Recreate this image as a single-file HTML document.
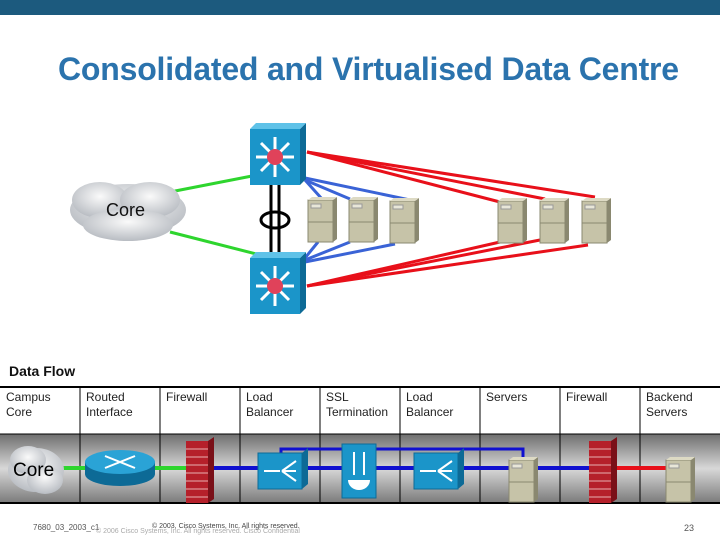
<!DOCTYPE html>
<html><head><meta charset="utf-8"><style>
body{margin:0;width:720px;height:540px;background:#fff;overflow:hidden;font-family:"Liberation Sans",sans-serif;position:relative}
.t{position:absolute;font-size:12px;color:#222;line-height:15px}
</style></head><body>
<div style="position:absolute;left:0;top:0;width:720px;height:15px;background:#1c5a7e"></div>
<div style="position:absolute;left:58px;top:51px;font-size:32px;font-weight:bold;color:#2b73ad;white-space:nowrap;letter-spacing:-0.2px">Consolidated and Virtualised Data Centre</div>
<svg width="720" height="540" style="position:absolute;left:0;top:0">
<defs>
<radialGradient id="cl" cx="50%" cy="40%" r="60%"><stop offset="0" stop-color="#fafafa"/><stop offset="1" stop-color="#b8bcc2"/></radialGradient>
<linearGradient id="bg" x1="0" y1="0" x2="0" y2="1"><stop offset="0" stop-color="#6e6e6e"/><stop offset="0.5" stop-color="#d8d8d8"/><stop offset="1" stop-color="#7a7a7a"/></linearGradient>
<g id="sw"><rect x="0" y="0" width="50" height="56" fill="#1b95c9"/><polygon points="50,0 56,-6 56,50 50,56" fill="#0d6a96"/><polygon points="0,0 6,-6 56,-6 50,0" fill="#5fc2e8"/>
<g stroke="#fff" stroke-width="3"><line x1="6" y1="28" x2="44" y2="28"/><line x1="25" y1="8" x2="25" y2="48"/><line x1="11" y1="14" x2="39" y2="42"/><line x1="39" y1="14" x2="11" y2="42"/></g><circle cx="25" cy="28" r="8" fill="#e0425a"/></g>
<g id="sv"><rect x="0" y="0" width="25" height="42" fill="#c6c3a8" stroke="#8a8870"/><polygon points="25,0 29,-3 29,39 25,42" fill="#8a8870"/><polygon points="0,0 4,-3 29,-3 25,0" fill="#dddac4"/><rect x="3" y="4" width="10" height="4" fill="#e8e6d8" stroke="#999"/><line x1="0" y1="22" x2="25" y2="22" stroke="#8a8870"/></g>
<g id="fw"><rect x="0" y="0" width="22" height="62" fill="#b5202a"/><polygon points="22,0 28,-4 28,58 22,62" fill="#7a1018"/>
<g stroke="#e8b0b0" stroke-width="1"><line x1="0" y1="8" x2="22" y2="8"/><line x1="0" y1="16" x2="22" y2="16"/><line x1="0" y1="24" x2="22" y2="24"/><line x1="0" y1="32" x2="22" y2="32"/><line x1="0" y1="40" x2="22" y2="40"/><line x1="0" y1="48" x2="22" y2="48"/><line x1="0" y1="56" x2="22" y2="56"/></g></g>
<g id="lb"><rect x="0" y="0" width="44" height="36" fill="#1b95c9" stroke="#0d6a96"/><polygon points="44,0 50,-5 50,31 44,36" fill="#0d6a96"/><g stroke="#fff" stroke-width="2"><line x1="6" y1="18" x2="22" y2="18"/><line x1="24" y1="18" x2="38" y2="8"/><line x1="24" y1="18" x2="38" y2="18"/><line x1="24" y1="18" x2="38" y2="28"/></g></g>
</defs>
<g stroke="#2ed52e" stroke-width="3"><line x1="170" y1="192" x2="252" y2="176"/><line x1="170" y1="232" x2="272" y2="258"/></g>
<g stroke="#000" stroke-width="3"><line x1="271" y1="185" x2="271" y2="258"/><line x1="279" y1="185" x2="279" y2="258"/></g>
<ellipse cx="275" cy="220" rx="14" ry="8" fill="none" stroke="#000" stroke-width="3"/>
<g stroke="#3a63d6" stroke-width="3"><line x1="305" y1="180" x2="322" y2="199"/><line x1="305" y1="180" x2="350" y2="199"/><line x1="305" y1="178" x2="410" y2="200"/><line x1="305" y1="258" x2="318" y2="242"/><line x1="305" y1="260" x2="350" y2="242"/><line x1="305" y1="262" x2="395" y2="244"/></g>
<g stroke="#e8101a" stroke-width="3"><line x1="307" y1="152" x2="500" y2="202"/><line x1="307" y1="152" x2="545" y2="199"/><line x1="307" y1="152" x2="595" y2="197"/><line x1="307" y1="286" x2="500" y2="242"/><line x1="307" y1="286" x2="540" y2="240"/><line x1="307" y1="286" x2="588" y2="245"/></g>
<use href="#sw" x="250" y="129"/><use href="#sw" x="250" y="258"/>
<use href="#sv" x="308" y="200"/><use href="#sv" x="349" y="200"/><use href="#sv" x="390" y="201"/>
<use href="#sv" x="498" y="201"/><use href="#sv" x="540" y="201"/><use href="#sv" x="582" y="201"/>
<g fill="url(#cl)"><ellipse cx="128" cy="210" rx="58" ry="26"/><ellipse cx="100" cy="200" rx="28" ry="18"/><ellipse cx="150" cy="200" rx="30" ry="18"/><ellipse cx="128" cy="225" rx="45" ry="16"/></g>
<text x="106" y="216" font-family="Liberation Sans" font-size="18" fill="#111">Core</text>
<rect x="0" y="434" width="720" height="69" fill="url(#bg)"/>
<line x1="0" y1="387" x2="720" y2="387" stroke="#000" stroke-width="2"/>
<line x1="0" y1="434" x2="720" y2="434" stroke="#000" stroke-width="1"/>
<line x1="0" y1="503" x2="720" y2="503" stroke="#000" stroke-width="2"/>
<g stroke="#000" stroke-width="1"><line x1="80" y1="387" x2="80" y2="503"/><line x1="160" y1="387" x2="160" y2="503"/><line x1="240" y1="387" x2="240" y2="503"/><line x1="320" y1="387" x2="320" y2="503"/><line x1="400" y1="387" x2="400" y2="503"/><line x1="480" y1="387" x2="480" y2="503"/><line x1="560" y1="387" x2="560" y2="503"/><line x1="640" y1="387" x2="640" y2="503"/></g>
<line x1="60" y1="468" x2="190" y2="468" stroke="#2ed52e" stroke-width="4"/>
<line x1="200" y1="468" x2="600" y2="468" stroke="#1010d0" stroke-width="4"/>
<polyline points="281,468 281,449 523,449 523,462" fill="none" stroke="#1010d0" stroke-width="3"/>
<line x1="612" y1="468" x2="668" y2="468" stroke="#e8101a" stroke-width="4"/>
<g fill="url(#cl)"><ellipse cx="36" cy="470" rx="28" ry="22"/><ellipse cx="28" cy="460" rx="18" ry="14"/><ellipse cx="45" cy="480" rx="18" ry="14"/></g>
<text x="13" y="476" font-family="Liberation Sans" font-size="19" fill="#000">Core</text>
<ellipse cx="120" cy="474" rx="35" ry="12" fill="#0d6a96"/><rect x="85" y="462" width="70" height="12" fill="#0d6a96"/><ellipse cx="120" cy="462" rx="35" ry="12" fill="#2aa3d6"/>
<g stroke="#fff" stroke-width="2"><line x1="105" y1="456" x2="135" y2="468"/><line x1="135" y1="456" x2="105" y2="468"/></g>
<use href="#fw" x="186" y="441"/><use href="#fw" x="589" y="441"/>
<use href="#lb" x="258" y="453"/><use href="#lb" x="414" y="453"/>
<rect x="342" y="444" width="34" height="54" fill="#1b95c9" stroke="#0d6a96"/>
<path d="M348 480 a11 10 0 0 0 22 0 z" fill="#fff"/><g stroke="#fff" stroke-width="2"><line x1="354" y1="452" x2="354" y2="475"/><line x1="364" y1="452" x2="364" y2="475"/></g>
<use href="#sv" x="509" y="460"/><use href="#sv" x="666" y="460"/>
</svg>
<div style="position:absolute;left:9px;top:363px;font-size:14px;font-weight:bold;color:#111">Data Flow</div>
<div class="t" style="left:6px;top:390px">Campus<br>Core</div>
<div class="t" style="left:86px;top:390px">Routed<br>Interface</div>
<div class="t" style="left:166px;top:390px">Firewall</div>
<div class="t" style="left:246px;top:390px">Load<br>Balancer</div>
<div class="t" style="left:326px;top:390px">SSL<br>Termination</div>
<div class="t" style="left:406px;top:390px">Load<br>Balancer</div>
<div class="t" style="left:486px;top:390px">Servers</div>
<div class="t" style="left:566px;top:390px">Firewall</div>
<div class="t" style="left:646px;top:390px">Backend<br>Servers</div>
<div style="position:absolute;left:33px;top:523px;font-size:8px;color:#555">7680_03_2003_c1</div>
<div style="position:absolute;left:96px;top:528px;font-size:7px;color:#aaa">© 2006 Cisco Systems, Inc. All rights reserved. Cisco Confidential</div>
<div style="position:absolute;left:152px;top:523px;font-size:7px;color:#444">© 2003, Cisco Systems, Inc. All rights reserved.</div>
<div style="position:absolute;left:684px;top:523px;font-size:9px;color:#555">23</div>
</body></html>
